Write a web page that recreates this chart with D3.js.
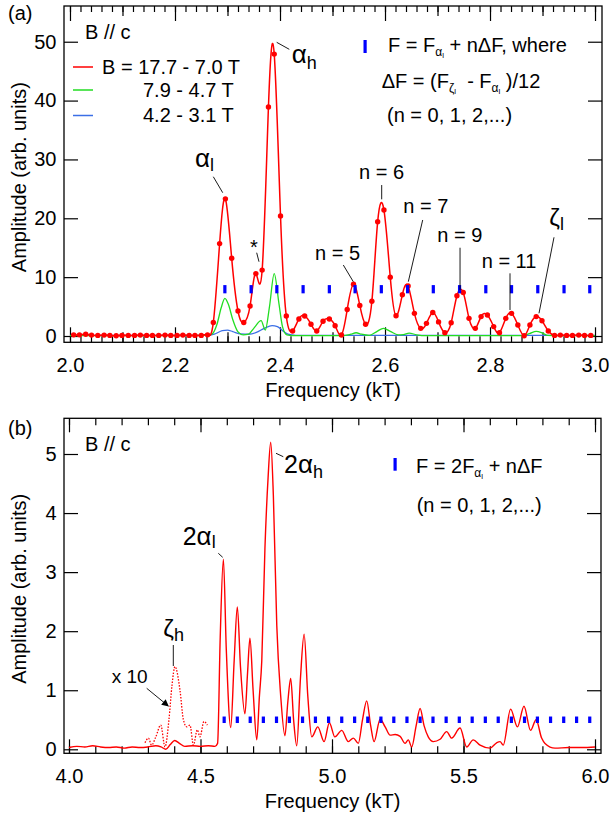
<!DOCTYPE html>
<html>
<head>
<meta charset="utf-8">
<script src="https://cdn.jsdelivr.net/npm/d3@7"></script>
<style>
  body { margin: 0; background: #fff; }
  svg { display: block; font-family: "Liberation Sans", Arial, Helvetica, sans-serif; }
  .axis .domain { display: none; }
  .axis line { stroke: #000; stroke-width: 1.2; }
  .axis text { font-size: 20px; fill: #000; font-family: "Liberation Sans", Arial, sans-serif; }
  text { white-space: pre; }
</style>
</head>
<body>
<script>
const width = 610;
const height = 819;

// (a) FFT spectrum, B = 17.7 - 7.0 T (points)
const freqA = [2.007, 2.018, 2.030, 2.041, 2.053, 2.065, 2.076, 2.088, 2.099, 2.111,
  2.123, 2.134, 2.146, 2.157, 2.169, 2.181, 2.192, 2.204, 2.215, 2.227,
  2.238, 2.250, 2.262, 2.273, 2.285, 2.296, 2.308, 2.320, 2.331, 2.343,
  2.354, 2.366, 2.378, 2.389, 2.401, 2.412, 2.424, 2.436, 2.447, 2.459,
  2.470, 2.482, 2.494, 2.505, 2.517, 2.528, 2.540, 2.552, 2.563, 2.575,
  2.586, 2.598, 2.610, 2.621, 2.633, 2.644, 2.656, 2.668, 2.679, 2.691,
  2.702, 2.714, 2.726, 2.737, 2.749, 2.760, 2.772, 2.783, 2.795, 2.807,
  2.818, 2.830, 2.841, 2.853, 2.865, 2.876, 2.888, 2.899, 2.911, 2.923,
  2.934, 2.946, 2.957, 2.969, 2.980, 2.992];
const ampA = [0.2, 0.2, 0.3, 0.15, 0.1, 0.15, 0.1, 0.05, 0.1, 0.1,
  0.1, 0.15, 0.1, 0.1, 0.1, 0.15, 0.1, 0.1, 0.15, 0.1,
  0.1, 0.1, 0.2, 2.3, 15.7, 23.3, 13.2, 4.25, 2.3, 5.1,
  10.6, 11.2, 38.9, 47.9, 20.4, 3.4, 0.85, 2.9, 3.4, 2.0,
  0.85, 2.5, 2.9, 1.75, 0.17, 4.5, 8.8, 5.2, 2.0, 5.9,
  19.4, 21.4, 10.0, 3.45, 7.0, 8.5, 3.85, 1.3, 2.15, 4.0,
  2.4, 0.56, 2.26, 6.85, 7.4, 3.0, 1.3, 3.3, 3.57, 1.6,
  0.56, 3.0, 3.85, 1.87, 0.05, 1.87, 3.3, 2.6, 0.85, 0.1,
  0.15, 0.1, 0.1, 0.15, 0.1, 0.1];

// (a) B = 7.9 - 4.7 T
const freqGreen = [2.00, 2.10, 2.20, 2.26, 2.27, 2.28, 2.288, 2.295, 2.302, 2.31,
  2.32, 2.33, 2.34, 2.35, 2.364, 2.372, 2.38, 2.389, 2.398, 2.405,
  2.413, 2.43, 2.52, 2.535, 2.545, 2.555, 2.57, 2.585, 2.597, 2.61,
  2.625, 2.635, 2.646, 2.66, 2.68, 2.86, 2.875, 2.888, 2.90, 2.91, 2.93, 3.00];
const ampGreen = [0.05, 0.05, 0.05, 0.1, 0.3, 2.0, 4.8, 6.4, 5.3, 2.8,
  0.7, 0.2, 0.3, 1.3, 2.6, 1.0, 5.0, 10.6, 5.5, 1.5,
  0.2, 0.05, 0.05, 0.3, 0.55, 0.3, 0.1, 0.8, 1.3, 0.8,
  0.2, 0.25, 0.5, 0.2, 0.05, 0.05, 0.4, 0.8, 0.5, 0.1, 0.05, 0.05];

// (a) B = 4.2 - 3.1 T
const freqBlue = [2.00, 2.26, 2.275, 2.29, 2.30, 2.31, 2.325, 2.34, 2.355, 2.37, 2.385, 2.395, 2.405, 2.415, 2.43, 3.00];
const ampBlue = [0.1, 0.1, 0.3, 0.9, 1.0, 0.75, 0.35, 0.3, 0.6, 1.3, 1.75, 1.6, 0.9, 0.3, 0.1, 0.1];

// (a) F = F_al + n dF, n = 0..14
const combA = [2.295, 2.345, 2.394, 2.444, 2.494, 2.543, 2.593, 2.643, 2.692, 2.742,
  2.792, 2.841, 2.891, 2.941, 2.990];

// (b) second harmonic region
const freqB = [4.000, 4.030, 4.060, 4.090, 4.120, 4.150, 4.180, 4.210, 4.240, 4.270,
  4.300, 4.330, 4.350, 4.368, 4.385, 4.402, 4.420, 4.440, 4.470, 4.500,
  4.530, 4.555, 4.565, 4.575, 4.587, 4.598, 4.615, 4.628, 4.640, 4.652,
  4.669, 4.679, 4.688, 4.700, 4.714, 4.724, 4.733, 4.745, 4.757, 4.767,
  4.777, 4.790, 4.805, 4.821, 4.832, 4.843, 4.854, 4.866, 4.880, 4.894,
  4.908, 4.923, 4.946, 4.970, 4.990, 5.011, 5.037, 5.062, 5.081, 5.100,
  5.116, 5.132, 5.147, 5.160, 5.183, 5.202, 5.221, 5.240, 5.259, 5.278,
  5.290, 5.303, 5.320, 5.335, 5.350, 5.366, 5.385, 5.411, 5.436, 5.455,
  5.487, 5.512, 5.537, 5.563, 5.601, 5.626, 5.639, 5.651, 5.679, 5.705,
  5.730, 5.755, 5.776, 5.797, 5.810, 5.848, 5.900, 5.950, 6.000];
const ampB = [0.03, 0.05, 0.04, 0.06, 0.04, 0.03, 0.04, 0.02, 0.04, 0.03,
  0.04, 0.06, 0.04, 0.00, 0.08, 0.15, 0.10, 0.05, 0.06, 0.05,
  0.06, 0.05, 0.10, 1.90, 3.22, 1.70, 0.37, 1.50, 2.41, 1.40,
  0.60, 1.30, 1.88, 1.00, 0.16, 0.90, 1.50, 3.40, 4.60, 5.20,
  4.30, 2.10, 0.90, 0.23, 0.80, 1.20, 0.50, 0.06, 1.20, 1.95,
  0.90, 0.21, 0.38, 0.13, 0.45, 0.21, 0.32, 0.13, 0.19, 0.10,
  0.50, 0.82, 0.40, 0.13, 0.51, 0.38, 0.24, 0.25, 0.22, 0.10,
  0.16, 0.04, 0.40, 0.69, 0.40, 0.21, 0.13, 0.17, 0.30, 0.19,
  0.36, 0.04, 0.16, 0.07, 0.02, 0.11, 0.13, 0.07, 0.68, 0.38,
  0.73, 0.32, 0.50, 0.19, 0.10, 0.02, 0.03, 0.03, 0.04];

// (b) zeta_h region magnified x 10
const freqX10 = [4.289, 4.302, 4.314, 4.330, 4.349, 4.365, 4.380, 4.392, 4.403, 4.422,
  4.435, 4.448, 4.460, 4.473, 4.488, 4.498, 4.513, 4.526];
const ampX10 = [0.11, 0.19, 0.07, 0.21, 0.41, 0.04, 0.50, 1.10, 1.40, 1.00,
  0.50, 0.38, 0.41, 0.07, 0.33, 0.21, 0.47, 0.41];

// (b) F = 2F_al + n dF, n = 0..28
const combB = [4.590, 4.640, 4.689, 4.739, 4.789, 4.838, 4.888, 4.937, 4.987, 5.037,
  5.086, 5.136, 5.186, 5.235, 5.285, 5.335, 5.384, 5.434, 5.484, 5.533,
  5.583, 5.632, 5.682, 5.732, 5.781, 5.831, 5.881, 5.930, 5.980];

const xTicksA = [2.0, 2.2, 2.4, 2.6, 2.8, 3.0];
const xMidA = [2.1, 2.3, 2.5, 2.7, 2.9];
const yTicksA = [0, 10, 20, 30, 40, 50];
const xTicksB = [4.0, 4.5, 5.0, 5.5, 6.0];
const yTicksB = [0, 1, 2, 3, 4, 5];

const legendA = ["B = 17.7 - 7.0 T", "7.9 - 4.7 T", "4.2 - 3.1 T"];

const red = "#ff0000", green = "#22dd22", blue = "#3b6fe6", combColor = "#0000ff";

const svg = d3.select("body")
  .append("svg")
  .attr("width", width)
  .attr("height", height);

const padA = {left: 64, right: 602, top: 6, bottom: 342.3};
const padB = {left: 64, right: 601, top: 418.3, bottom: 753.3};

const xA = d3.scaleLinear().domain([1.9886, 3.0133]).range([padA.left, padA.right]);
const yA = d3.scaleLinear().domain([-1.07, 56.07]).range([padA.bottom, padA.top]);
const xB = d3.scaleLinear().domain([3.981, 6.0228]).range([padB.left, padB.right]);
const yB = d3.scaleLinear().domain([-0.0677, 5.6045]).range([padB.bottom, padB.top]);

function axes(p, x, y, xSets, yTicks) {
  xSets.forEach((t) => {
    svg.append("g")
      .attr("class", "axis")
      .attr("transform", "translate(0," + p.bottom + ")")
      .call(d3.axisBottom(x).tickValues(t.values).tickSize(-t.len).tickPadding(16)
        .tickFormat(t.fmt ? d3.format(t.fmt) : ""));
    svg.append("g")
      .attr("class", "axis")
      .attr("transform", "translate(0," + p.top + ")")
      .call(d3.axisTop(x).tickValues(t.values).tickSize(-t.len).tickFormat(""));
  });
  svg.append("g")
    .attr("class", "axis")
    .attr("transform", "translate(" + p.left + ",0)")
    .call(d3.axisLeft(y).tickValues(yTicks).tickSize(-14).tickPadding(7.5).tickFormat(d3.format("d")));
  svg.append("g")
    .attr("class", "axis")
    .attr("transform", "translate(" + p.right + ",0)")
    .call(d3.axisRight(y).tickValues(yTicks).tickSize(-14).tickFormat(""));
  svg.append("rect")
    .attr("x", p.left).attr("y", p.top)
    .attr("width", p.right - p.left).attr("height", p.bottom - p.top)
    .attr("fill", "none").attr("stroke", "#000").attr("stroke-width", 1.3);

  svg.append("text")
    .attr("x", (p.left + p.right) / 2).attr("y", p.bottom + 54.7)
    .attr("text-anchor", "middle").attr("font-size", 20)
    .text("Frequency (kT)");
  svg.append("text")
    .attr("transform", "translate(26," + ((p.top + p.bottom) / 2 + 3) + ") rotate(-90)")
    .attr("text-anchor", "middle").attr("font-size", 20)
    .text("Amplitude (arb. units)");
}

function rich(px, py, parts, anchor) {
  const t = svg.append("text").attr("x", px).attr("y", py)
    .attr("text-anchor", anchor || "start");
  let shift = 0;
  parts.forEach(([s, size, off]) => {
    off = off || 0;
    t.append("tspan").attr("font-size", size).attr("dy", off - shift).text(s);
    shift = off;
  });
  return t;
}

function leader(x, y, a) {
  svg.append("line")
    .attr("x1", x(a[0])).attr("y1", y(a[1]))
    .attr("x2", x(a[2])).attr("y2", y(a[3]))
    .attr("stroke", "#000").attr("stroke-width", 0.9);
}

function combMarks(x, y, values, level, half) {
  svg.append("g").selectAll("rect")
    .data(values)
    .enter().append("rect")
    .attr("x", (d) => x(d) - 1.6)
    .attr("y", y(level + half))
    .attr("width", 3.2)
    .attr("height", y(level - half) - y(level + half))
    .attr("fill", combColor);
}

// ---------- panel (a) ----------
axes(padA, xA, yA, [
  {values: xTicksA, len: 15, fmt: ".1f"},
  {values: xMidA, len: 10},
  {values: d3.range(2.0, 3.001, 0.02), len: 6}
], yTicksA);

const lineA = d3.line()
  .x((d) => xA(d[0]))
  .y((d) => yA(d[1]));

svg.append("path")
  .datum(d3.zip(freqBlue, ampBlue))
  .attr("fill", "none").attr("stroke", blue).attr("stroke-width", 1.3)
  .attr("d", lineA.curve(d3.curveMonotoneX));

svg.append("path")
  .datum(d3.zip(freqGreen, ampGreen))
  .attr("fill", "none").attr("stroke", green).attr("stroke-width", 1.3)
  .attr("d", lineA.curve(d3.curveMonotoneX));

svg.append("path")
  .datum(d3.zip(freqA, ampA))
  .attr("fill", "none").attr("stroke", red).attr("stroke-width", 1.5)
  .attr("d", lineA.curve(d3.curveNatural));

svg.append("g").selectAll("circle")
  .data(d3.zip(freqA, ampA))
  .enter().append("circle")
  .attr("cx", (d) => xA(d[0]))
  .attr("cy", (d) => yA(d[1]))
  .attr("r", 2.7)
  .attr("fill", red);

combMarks(xA, yA, combA, 7.95, 0.7);

// legend (a)
svg.append("text").attr("x", 8).attr("y", 20).attr("font-size", 20).text("(a)");
svg.append("text").attr("x", 85).attr("y", 39).attr("font-size", 20).text("B // c");
[[red, 67, 102], [green, 90, 143], [blue, 115.5, 143]].forEach((r, i) => {
  svg.append("line").attr("x1", 73).attr("x2", 93).attr("y1", r[1]).attr("y2", r[1])
    .attr("stroke", r[0]).attr("stroke-width", 1.5);
  svg.append("text").attr("x", r[2]).attr("y", r[1] + 6.5).attr("font-size", 20).text(legendA[i]);
});

svg.append("rect").attr("x", 363.5).attr("y", 40).attr("width", 3.2).attr("height", 13).attr("fill", combColor);
rich(388, 51.7, [["F = F", 20], ["α", 12, 4], ["l", 8, 6], [" + nΔF, where", 20, 0]]);
rich(381.7, 88.3, [["ΔF = (F", 20], ["ζ", 12, 4], ["l", 8, 6], ["  - F", 20, 0], ["α", 12, 4], ["l", 8, 6], [" )/12", 20, 0]]);
rich(387, 121.7, [["(n = 0, 1, 2,...)", 20]]);

// peak labels (a)
rich(xA(2.4223), yA(46.33), [["α", 26], ["h", 18, 6]]);
leader(xA, yA, [2.3937, 49.90, 2.4177, 48.71]);
rich(xA(2.2381), yA(28.76), [["α", 26], ["l", 18, 4]]);
leader(xA, yA, [2.2730, 27.06, 2.2909, 24.35]);
rich(xA(2.3505), yA(13.93), [["*", 20]], "middle");
leader(xA, yA, [2.3556, 14.15, 2.3600, 12.62]);
rich(xA(2.4667), yA(12.91), [["n = 5", 20]]);
leader(xA, yA, [2.5206, 12.06, 2.5396, 9.23]);
rich(xA(2.5505), yA(26.62), [["n = 6", 20]]);
leader(xA, yA, [2.5937, 25.65, 2.5937, 23.22]);
rich(xA(2.6349), yA(20.85), [["n = 7", 20]]);
leader(xA, yA, [2.6718, 19.71, 2.6444, 9.23]);
rich(xA(2.6996), yA(16.02), [["n = 9", 20]]);
leader(xA, yA, [2.7429, 15.0, 2.7429, 7.82]);
rich(xA(2.7842), yA(11.50), [["n = 11", 20]]);
leader(xA, yA, [2.8381, 10.65, 2.8381, 4.42]);
rich(xA(2.9130), yA(18.69), [["ζ", 24], ["l", 18, 4]]);
leader(xA, yA, [2.9219, 16.77, 2.8933, 3.86]);

// ---------- panel (b) ----------
axes(padB, xB, yB, [
  {values: xTicksB, len: 14, fmt: ".1f"},
  {values: d3.range(4.0, 6.001, 0.1), len: 7}
], yTicksB);

const lineB = d3.line()
  .x((d) => xB(d[0]))
  .y((d) => yB(d[1]))
  .curve(d3.curveMonotoneX);

svg.append("path")
  .datum(d3.zip(freqB, ampB))
  .attr("fill", "none").attr("stroke", red).attr("stroke-width", 1.4)
  .attr("d", lineB);

svg.append("path")
  .datum(d3.zip(freqX10, ampX10))
  .attr("fill", "none").attr("stroke", red).attr("stroke-width", 1.3)
  .attr("stroke-dasharray", "1.5 1.5")
  .attr("d", lineB);

combMarks(xB, yB, combB, 0.5, 0.055);

svg.append("text").attr("x", 8).attr("y", 435).attr("font-size", 20).text("(b)");
svg.append("text").attr("x", 85).attr("y", 451).attr("font-size", 20).text("B // c");
svg.append("rect").attr("x", 393.5).attr("y", 458).attr("width", 3.2).attr("height", 12.7).attr("fill", combColor);
rich(416, 473.3, [["F = 2F", 20], ["α", 12, 4], ["l", 8, 6], [" + nΔF", 20, 0]]);
rich(416.7, 512, [["(n = 0, 1, 2,...)", 20]]);

rich(xB(4.8175), yB(4.673), [["2", 25], ["α", 26], ["h", 18, 5]]);
leader(xB, yB, [4.7871, 5.012, 4.8148, 4.954]);
rich(xB(4.4323), yB(3.459), [["2", 25], ["α", 26], ["l", 18, 3]]);
leader(xB, yB, [4.5677, 3.319, 4.5844, 3.251]);
rich(xB(4.3586), yB(1.901), [["ζ", 24], ["h", 18, 4]]);
leader(xB, yB, [4.3966, 1.766, 4.3966, 1.410]);
rich(xB(4.1624), yB(1.117), [["x 10", 19]]);

svg.append("defs").append("marker")
  .attr("id", "arrow").attr("viewBox", "0 0 10 10")
  .attr("refX", 9).attr("refY", 5)
  .attr("markerWidth", 9).attr("markerHeight", 7)
  .attr("markerUnits", "userSpaceOnUse")
  .attr("orient", "auto")
  .append("path").attr("d", "M0,0L10,5L0,10z").attr("fill", "#000");
svg.append("line")
  .attr("x1", xB(4.2954)).attr("y1", yB(1.033))
  .attr("x2", xB(4.3776)).attr("y2", yB(0.733))
  .attr("stroke", "#000").attr("stroke-width", 0.9)
  .attr("marker-end", "url(#arrow)");
</script>
</body>
</html>
